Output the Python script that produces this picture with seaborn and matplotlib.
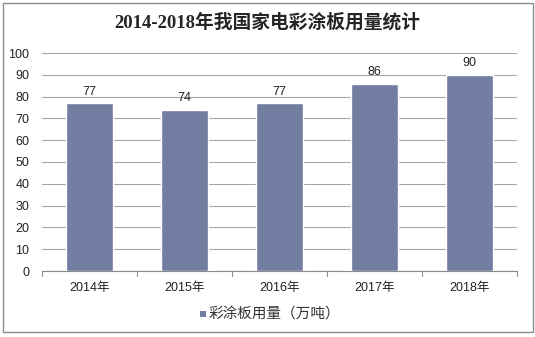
import matplotlib
matplotlib.use("Agg")
import matplotlib.pyplot as plt
import seaborn as sns
import pandas as pd
from matplotlib.patches import Rectangle

years = ["2014年", "2015年", "2016年", "2017年", "2018年"]
usage = [77, 74, 77, 86, 90]
series_name = "彩涂板用量（万吨）"
title = "2014-2018年我国家电彩涂板用量统计"
y_ticks = [0, 10, 20, 30, 40, 50, 60, 70, 80, 90, 100]

sns.set_theme(style="white")
plt.rcParams["font.family"] = ["Noto Sans CJK SC", "DejaVu Sans"]

df = pd.DataFrame({"year": years, "usage": usage})

W, H = 535, 337
fig = plt.figure(figsize=(W / 100, H / 100), dpi=100)
fig.patch.set_facecolor("white")

# outer chart frame
fig.add_artist(Rectangle((3 / W, 1 - 332 / H), 530 / W, 329 / H,
                         transform=fig.transFigure, fill=False,
                         edgecolor="#8c8c8c", linewidth=1.0))

ax = fig.add_axes([42 / W, 1 - 271 / H, 475 / W, 218 / H])
bar_color = "#717da1"
sns.barplot(data=df, x="year", y="usage", color=bar_color, width=0.49,
            saturation=1, ax=ax, zorder=3)

num_font = ["Liberation Sans", "DejaVu Sans"]

ax.set_ylim(0, 100)
ax.set_xlim(-0.5, 4.5)
ax.set_yticks(y_ticks)
ax.set_yticklabels([str(v) for v in y_ticks], fontsize=9, color="#222222",
                   family=num_font)
ax.yaxis.grid(True, color="#a6a6a6", linewidth=0.8, zorder=0)
ax.xaxis.grid(False)
ax.set_axisbelow(True)
ax.set_xlabel("")
ax.set_ylabel("")
for side in ["top", "right", "left"]:
    ax.spines[side].set_visible(False)
ax.spines["bottom"].set_color("#8c8c8c")
ax.spines["bottom"].set_linewidth(0.8)

# category labels, with tick marks between categories
ax.set_xticks(range(len(years)))
ax.set_xticklabels(years, fontsize=9, color="#222222",
                   family=["Liberation Sans", "Noto Sans CJK SC"])
ax.tick_params(axis="x", length=0, pad=8)
ax.tick_params(axis="y", length=0, pad=9)
for b in [i - 0.5 for i in range(len(years) + 1)]:
    ax.plot([b, b], [0, -2.2], color="#8c8c8c", linewidth=0.8,
            clip_on=False, zorder=4)

for container in ax.containers:
    ax.bar_label(container, labels=[str(v) for v in usage], padding=4,
                 fontsize=9, color="#222222", family=num_font)

fig.text(0.5, 1 - 22 / H, title, ha="center", va="center", fontsize=13.5,
         fontweight="bold", color="#262626",
         family=["Liberation Serif", "Noto Sans CJK SC"])

# legend
fig.add_artist(Rectangle((200 / W, 1 - 317 / H), 6 / W, 6 / H,
                         transform=fig.transFigure, facecolor=bar_color,
                         edgecolor="none"))
fig.text(209 / W, 1 - 314 / H, series_name, ha="left", va="center",
         fontsize=10.5, color="#333333")

fig.savefig("out.png", dpi=100)
